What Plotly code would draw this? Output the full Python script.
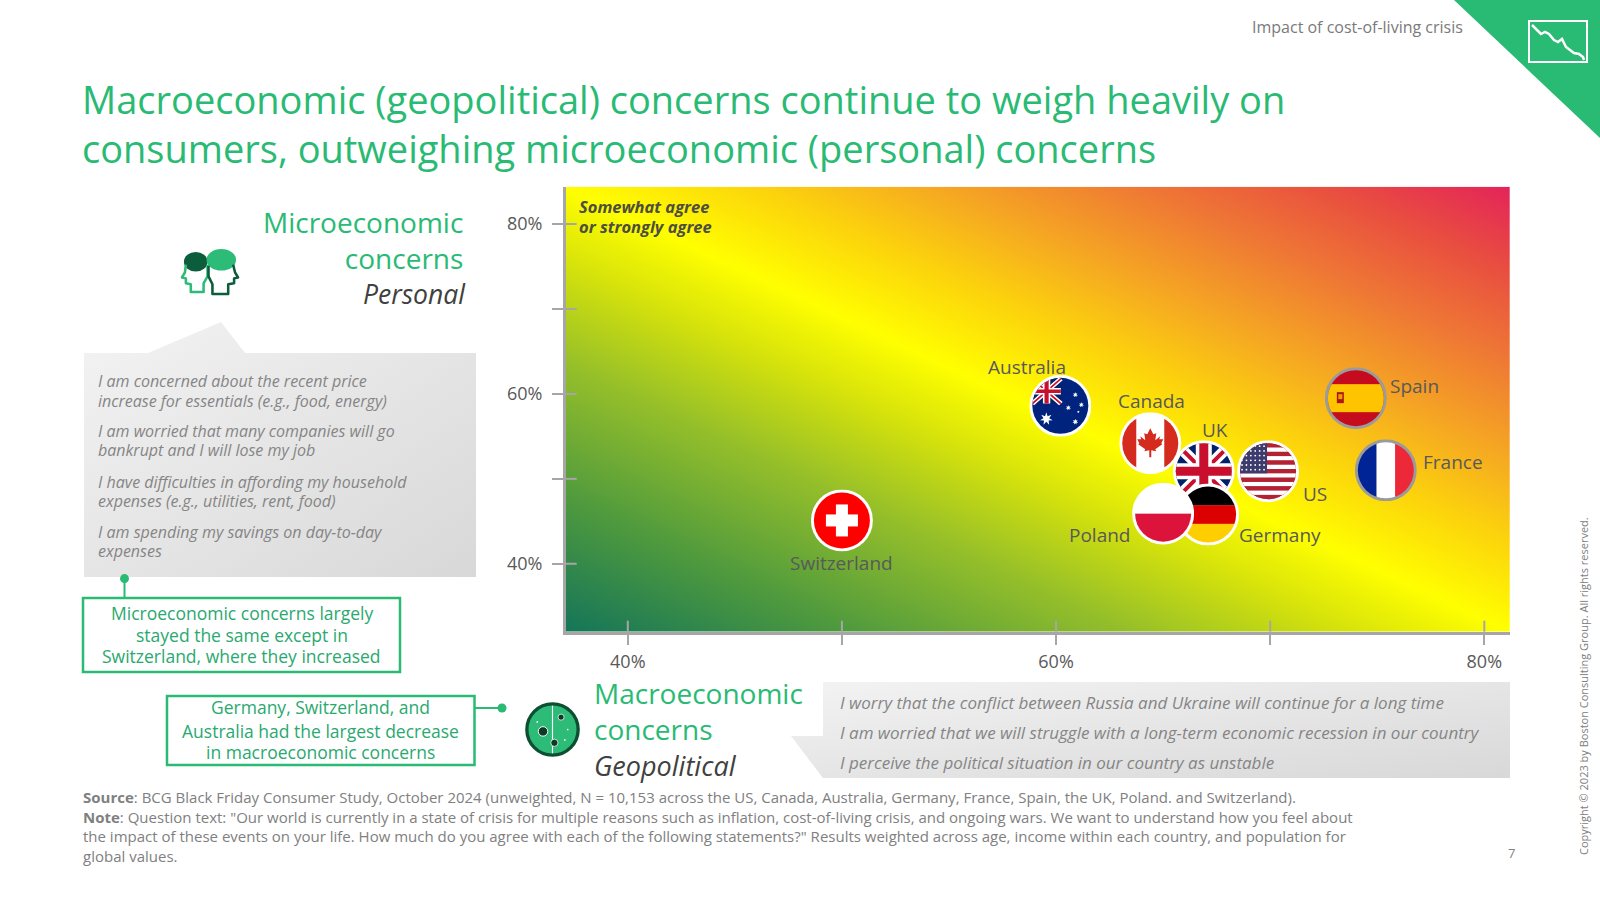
import base64
import math
import plotly.graph_objects as go

# --- Data (% agreeing, somewhat or strongly) ---
COUNTRIES = ["Switzerland", "Australia", "Canada", "UK", "US", "Germany", "Poland", "Spain", "France"]
MACRO = [50.0, 60.2, 64.4, 66.9, 69.9, 67.1, 65.0, 74.0, 75.4]   # geopolitical concerns (x)
MICRO = [45.1, 58.6, 54.2, 50.9, 50.9, 45.8, 45.9, 59.5, 51.0]   # personal concerns (y)

X_TICKS = [40, 50, 60, 70, 80]
X_TICK_TEXT = ["40%", "", "60%", "", "80%"]
Y_TICKS = [40, 50, 60, 70, 80]
Y_TICK_TEXT = ["40%", "", "60%", "", "80%"]
X_RANGE = [37.1, 81.2]
Y_RANGE = [32.0, 84.4]

# --- Styling ---
W, H = 1600, 900
FONT = "Open Sans"
GREEN = "#29BA74"
GREY_TXT = "#858585"
AXIS = "#a6a6a6"
PLOT_L, PLOT_R, PLOT_T, PLOT_B = 565.7, 1510.0, 186.7, 631.7

# label offset from flag centre in screen px (dx right, dy down)
LABEL_OFFSET = {
    "Switzerland": (0, 43), "Australia": (-33, -39), "Canada": (1, -42),
    "UK": (11, -41), "US": (47, 23), "Germany": (72, 20), "Poland": (-63, 21),
    "Spain": (59, -12), "France": (67, -8),
}
RING = {"Spain": "#9b9b9b", "France": "#9b9b9b"}
FLAG_PX = 62


def px(x, y):
    return x / W, 1 - y / H


def svg_uri(svg):
    return "data:image/svg+xml;base64," + base64.b64encode(svg.encode()).decode()


def star(cx, cy, r, n=7, k=0.45):
    pts = []
    for i in range(2 * n):
        rr = r if i % 2 == 0 else r * k
        a = math.pi * i / n - math.pi / 2
        pts.append(f"{cx + rr * math.cos(a):.2f},{cy + rr * math.sin(a):.2f}")
    return f'<polygon points="{" ".join(pts)}" fill="#fff"/>'


def union_jack():
    return ('<rect width="62" height="62" fill="#012169"/>'
            '<path d="M0 0L62 62M62 0L0 62" stroke="#fff" stroke-width="11"/>'
            '<path d="M0 0L62 62M62 0L0 62" stroke="#c8102e" stroke-width="4"/>'
            '<path d="M31 0V62M0 31H62" stroke="#fff" stroke-width="16"/>'
            '<path d="M31 0V62M0 31H62" stroke="#c8102e" stroke-width="9"/>')


def us_flag():
    s = '<rect width="62" height="62" fill="#b22234"/>'
    h = 56 / 13
    for i in range(13):
        col = "#b22234" if i % 2 == 0 else "#fff"
        s += f'<rect x="0" y="{3 + i * h:.2f}" width="62" height="{h + 0.1:.2f}" fill="{col}"/>'
    s += f'<rect width="30" height="{3 + 7 * h:.2f}" fill="#3c3b6e"/>'
    for r in range(6):
        for c in range(6):
            s += f'<circle cx="{5 + c * 4.4:.1f}" cy="{6 + r * 4.7:.1f}" r="0.9" fill="#fff"/>'
    return s


def canada_flag():
    leaf = [(0, -13), (3, -7), (6, -8), (5, -1), (10, -5), (9, -2), (13, -2), (11, 2), (12, 3),
            (5, 8), (6, 10), (1, 9), (1, 16), (-1, 16), (-1, 9), (-6, 10), (-5, 8), (-12, 3),
            (-11, 2), (-13, -2), (-9, -2), (-10, -5), (-5, -1), (-6, -8), (-3, -7)]
    pts = " ".join(f"{31 + x:.1f},{29 + y:.1f}" for x, y in leaf)
    return ('<rect width="62" height="62" fill="#fff"/>'
            '<rect width="17" height="62" fill="#d52b1e"/><rect x="45" width="17" height="62" fill="#d52b1e"/>'
            f'<polygon points="{pts}" fill="#d52b1e"/>')


FLAGS = {
    "Switzerland": '<rect width="62" height="62" fill="#ff0000"/><rect x="25" y="15" width="12" height="32" fill="#fff"/>'
                   '<rect x="15" y="25" width="32" height="12" fill="#fff"/>',
    "Australia": '<rect width="62" height="62" fill="#00247d"/><g transform="translate(3,4) scale(0.46,0.4)">'
                 + union_jack() + '</g>' + star(17, 44, 6.5) + star(46, 20, 2.8) + star(39, 33, 2.8)
                 + star(52, 30, 2.8) + star(46, 47, 3) + star(49, 37, 1.4, 5),
    "Canada": canada_flag(),
    "UK": union_jack(),
    "US": us_flag(),
    "Germany": '<rect width="62" height="22" fill="#000"/><rect y="21.7" width="62" height="19" fill="#dd0000"/>'
               '<rect y="40.3" width="62" height="22" fill="#ffce00"/>',
    "Poland": '<rect width="62" height="31" fill="#fff"/><rect y="31" width="62" height="31" fill="#dc143c"/>',
    "Spain": '<rect width="62" height="62" fill="#c60b1e"/><rect y="17" width="62" height="28" fill="#ffc400"/>'
             '<rect x="12" y="25" width="7" height="11" fill="#ad1519"/><rect x="13.5" y="27" width="4" height="5" fill="#e8a200"/>',
    "France": '<rect width="22" height="62" fill="#002395"/><rect x="21.7" width="19" height="62" fill="#fff"/>'
              '<rect x="40.3" width="22" height="62" fill="#ed2939"/>',
}


def flag_svg(name):
    ring = RING.get(name, "#ffffff")
    return ('<svg xmlns="http://www.w3.org/2000/svg" viewBox="0 0 62 62">'
            '<defs><clipPath id="c"><circle cx="31" cy="31" r="28"/></clipPath></defs>'
            f'<circle cx="31" cy="31" r="31" fill="{ring}"/>'
            f'<g clip-path="url(#c)">{FLAGS[name]}</g></svg>')


HEADS_SVG = ('<svg xmlns="http://www.w3.org/2000/svg" viewBox="0 0 62 50">'
             '<ellipse cx="17" cy="14" rx="12" ry="10" fill="#0b5d3b"/>'
             '<path d="M7 17 L6 25 L3 30 L7 31 L7 36 L12 37 L12 45 L25 45 L25 36 L29 29 L29 17" '
             'stroke="#2dbb78" stroke-width="2.6" fill="none" stroke-linejoin="round"/>'
             '<ellipse cx="43" cy="12" rx="15" ry="11" fill="#2dbb78"/>'
             '<path d="M55 17 L57 25 L60 30 L56 31 L56 36 L50 37 L50 47 L34 47 L34 37 L30 29 L30 18" '
             'stroke="#0b5d3b" stroke-width="2.6" fill="none" stroke-linejoin="round"/></svg>')

GLOBE_SVG = ('<svg xmlns="http://www.w3.org/2000/svg" viewBox="0 0 60 60">'
             '<circle cx="30" cy="30" r="27" fill="#2dbb78" stroke="#0d4f30" stroke-width="3.5"/>'
             '<line x1="30" y1="5" x2="30" y2="55" stroke="#fff" stroke-width="1.2"/>'
             '<circle cx="20" cy="32" r="5" fill="#0b3a25" stroke="#fff" stroke-width="1"/>'
             '<circle cx="39" cy="17" r="3.2" fill="#0b3a25" stroke="#fff" stroke-width="0.8"/>'
             '<circle cx="32" cy="44" r="3.8" fill="#0b3a25" stroke="#fff" stroke-width="0.8"/>'
             '<circle cx="46" cy="30" r="0.9" fill="#fff"/><circle cx="14" cy="22" r="0.9" fill="#fff"/>'
             '<circle cx="43" cy="41" r="0.9" fill="#fff"/></svg>')

CORNER_SVG = ('<svg xmlns="http://www.w3.org/2000/svg" viewBox="0 0 60 43">'
              '<rect x="1" y="1" width="58" height="41" fill="none" stroke="#fff" stroke-width="2"/>'
              '<polyline points="4,5 9,10 13,14 17,12 21,14 26,20 30,22 34,19 38,27 42,30 46,33 51,34 55,37 56,40" '
              'fill="none" stroke="#fff" stroke-width="2.5"/></svg>')


def box_svg(w, h, pts):
    p = " ".join(f"{x},{y}" for x, y in pts)
    return (f'<svg xmlns="http://www.w3.org/2000/svg" viewBox="0 0 {w} {h}" preserveAspectRatio="none">'
            '<defs><linearGradient id="g" x1="0" y1="0" x2="1" y2="1">'
            '<stop offset="0" stop-color="#f3f3f3"/><stop offset="1" stop-color="#d8d8d8"/></linearGradient></defs>'
            f'<polygon points="{p}" fill="url(#g)"/></svg>')


LEFT_BOX = box_svg(392, 255, [(0, 31), (64, 31), (137, 0), (161, 31), (392, 31), (392, 255), (0, 255)])
RIGHT_BOX = box_svg(719, 96, [(32, 0), (719, 0), (719, 96), (32, 96), (0, 54), (32, 54)])

# --- Figure ---
fig = go.Figure()

# background gradient: green (low/low) -> yellow -> red (high/high)
fig.add_trace(go.Heatmap(
    x=X_RANGE, y=Y_RANGE, z=[[0, 1], [1, 2]], zmin=0, zmax=2, zsmooth="best",
    colorscale=[[0, "#147559"], [0.15, "#4f9a3e"], [0.3, "#95bf2a"], [0.42, "#d9e40a"],
                [0.5, "#ffff00"], [0.6, "#fcd40c"], [0.7, "#f5a623"], [0.8, "#ef7a34"],
                [0.9, "#e9503f"], [1, "#e4245a"]],
    showscale=False, hoverinfo="skip",
))

fig.add_trace(go.Scatter(
    x=MACRO, y=MICRO, mode="markers", text=COUNTRIES,
    marker=dict(size=FLAG_PX - 2, color="white"),
    hovertemplate="%{text}<br>Macro: %{x}%<br>Micro: %{y}%<extra></extra>",
))

ppx = (PLOT_R - PLOT_L) / (X_RANGE[1] - X_RANGE[0])
ppy = (PLOT_B - PLOT_T) / (Y_RANGE[1] - Y_RANGE[0])

images = []
for name, xv, yv in zip(COUNTRIES, MACRO, MICRO):
    images.append(dict(source=svg_uri(flag_svg(name)), xref="x", yref="y", x=xv, y=yv,
                       sizex=FLAG_PX / ppx, sizey=FLAG_PX / ppy, xanchor="center", yanchor="middle",
                       sizing="stretch", layer="above"))
    dx, dy = LABEL_OFFSET[name]
    fig.add_annotation(x=xv, y=yv, xref="x", yref="y", text=name, showarrow=False,
                       xshift=dx, yshift=-dy, font=dict(family=FONT, size=19, color="#595959"))


def paper_image(svg, left, top, w, h, layer="above"):
    x, y = px(left, top)
    images.append(dict(source=svg_uri(svg), xref="paper", yref="paper", x=x, y=y,
                       sizex=w / W, sizey=h / H, xanchor="left", yanchor="top",
                       sizing="stretch", layer=layer))


paper_image(LEFT_BOX, 84, 322, 392, 255, "below")
paper_image(RIGHT_BOX, 791, 682, 719, 96, "below")
paper_image(HEADS_SVG, 179, 248, 61, 49)
paper_image(GLOBE_SVG, 524, 701, 57, 57)


def text(t, x, y, size, color, anchor="left", angle=0, align="left"):
    xp, yp = px(x, y)
    fig.add_annotation(x=xp, y=yp, xref="paper", yref="paper", text=t, showarrow=False,
                       xanchor=anchor, yanchor="middle", textangle=angle, align=align,
                       font=dict(family=FONT, size=size, color=color))


def rect(x0, y0, x1, y1, **kw):
    a, b = px(x0, y0)
    c, d = px(x1, y1)
    fig.add_shape(type="rect", xref="paper", yref="paper", x0=a, y0=b, x1=c, y1=d, **kw)


def line(x0, y0, x1, y1, color=GREEN, width=2):
    a, b = px(x0, y0)
    c, d = px(x1, y1)
    fig.add_shape(type="line", xref="paper", yref="paper", x0=a, y0=b, x1=c, y1=d,
                  line=dict(color=color, width=width))


def dot(x, y, r=4.5):
    a, b = px(x - r, y - r)
    c, d = px(x + r, y + r)
    fig.add_shape(type="circle", xref="paper", yref="paper", x0=a, y0=b, x1=c, y1=d,
                  fillcolor=GREEN, line=dict(width=0))


# corner badge (kept below so the white icon shows on top)
tri = [px(1454, 0), px(1600, 0), px(1600, 138)]
fig.add_shape(type="path", xref="paper", yref="paper", layer="below",
              path="M {} {} L {} {} L {} {} Z".format(*[v for p in tri for v in p]),
              fillcolor=GREEN, line=dict(width=0))
paper_image(CORNER_SVG, 1528, 20, 60, 43)

# header + title
text("Impact of cost-of-living crisis", 1465, 26.5, 16, "#7a7a7a", "right")
text("Macroeconomic (geopolitical) concerns continue to weigh heavily on<br>"
     "consumers, outweighing microeconomic (personal) concerns", 80, 123, 38, GREEN)

# left panel
text("Microeconomic<br>concerns", 465, 239.5, 28, GREEN, "right", align="right")
text("<i>Personal</i>", 468, 294, 26.5, "#404040", "right")
left_lines = [
    ("I am concerned about the recent price", 381), ("increase for essentials (e.g., food, energy)", 401),
    ("I am worried that many companies will go", 431), ("bankrupt and I will lose my job", 450),
    ("I have difficulties in affording my household", 482), ("expenses (e.g., utilities, rent, food)", 501),
    ("I am spending my savings on day-to-day", 532), ("expenses", 551),
]
for t, y in left_lines:
    text(f"<i>{t}</i>", 96, y, 16, GREY_TXT)

line(124.5, 578.6, 124.5, 598)
dot(124.5, 578.6)
rect(83, 598, 400, 672, line=dict(color=GREEN, width=2.5))
for t, y in [("Microeconomic concerns largely", 613), ("stayed the same except in", 635),
             ("Switzerland, where they increased", 656)]:
    text(t, 241.5, y, 17.5, "#2aa96f", "center")

rect(167, 696, 474.5, 765, line=dict(color=GREEN, width=2.5))
line(474.5, 708, 502, 708)
dot(502, 708)
for t, y in [("Germany, Switzerland, and", 707), ("Australia had the largest decrease", 730.6),
             ("in macroeconomic concerns", 752)]:
    text(t, 320.7, y, 17.5, "#2aa96f", "center")

# bottom panel
text("Macroeconomic<br>concerns", 592, 711, 28, GREEN)
text("<i>Geopolitical</i>", 592, 765, 27, "#404040")
for t, y in [("I worry that the conflict between Russia and Ukraine will continue for a long time", 702),
             ("I am worried that we will struggle with a long-term economic recession in our country", 732),
             ("I perceive the political situation in our country as unstable", 762)]:
    text(f"<i>{t}</i>", 838, y, 17, GREY_TXT)

text("<i><b>Somewhat agree</b></i>", 577, 206, 16.5, "#4d4d40")
text("<i><b>or strongly agree</b></i>", 577, 226.5, 16.5, "#4d4d40")

# footer
foot = "<br>".join([
    "<b>Source</b>: BCG Black Friday Consumer Study, October 2024 (unweighted, N = 10,153 across the US, Canada, "
    "Australia, Germany, France, Spain, the UK, Poland. and Switzerland).",
    "<b>Note</b>: Question text: \"Our world is currently in a state of crisis for multiple reasons such as inflation, "
    "cost-of-living crisis, and ongoing wars. We want to understand how you feel about",
    "the impact of these events on your life. How much do you agree with each of the following statements?\" "
    "Results weighted across age, income within each country, and population for",
    "global values.",
])
text(foot, 81, 826, 15, "#808080")
text("7", 1511, 853, 13, "#808080", "center")
text("Copyright © 2023 by Boston Consulting Group. All rights reserved.", 1583, 686, 11, "#808080",
     "center", angle=-90)

# tick marks cross the axis line: draw the inner halves
for v in X_TICKS:
    fig.add_shape(type="line", xref="x", yref="paper", x0=v, x1=v,
                  y0=1 - PLOT_B / H, y1=1 - (PLOT_B - 11) / H, line=dict(color=AXIS, width=2))
for v in Y_TICKS:
    fig.add_shape(type="line", xref="paper", yref="y", y0=v, y1=v,
                  x0=PLOT_L / W, x1=(PLOT_L + 11) / W, line=dict(color=AXIS, width=2))

axis_common = dict(showgrid=False, zeroline=False, showline=True, linecolor=AXIS, linewidth=2.5,
                   ticks="outside", ticklen=11, tickwidth=2, tickcolor=AXIS, fixedrange=True,
                   tickfont=dict(family=FONT, size=18, color="#595959"))

fig.update_layout(
    width=W, height=H, margin=dict(l=0, r=0, t=0, b=0),
    paper_bgcolor="white", plot_bgcolor="white", showlegend=False,
    xaxis=dict(domain=[PLOT_L / W, PLOT_R / W], range=X_RANGE, tickvals=X_TICKS,
               ticktext=X_TICK_TEXT, ticklabelstandoff=1, **axis_common),
    yaxis=dict(domain=[1 - PLOT_B / H, 1 - PLOT_T / H], range=Y_RANGE, tickvals=Y_TICKS,
               ticktext=Y_TICK_TEXT, ticklabelstandoff=6, **axis_common),
    images=images,
)

fig.write_html("out.html", config={"displayModeBar": False},
               post_script="document.body.style.margin='0';")
